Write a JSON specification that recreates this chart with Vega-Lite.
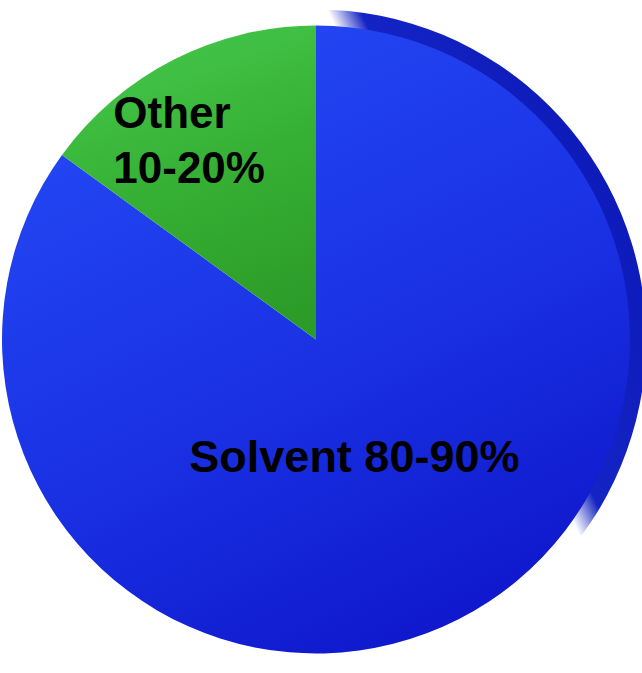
{
  "$schema": "https://vega.github.io/schema/vega-lite/v6.json",
  "width": 632,
  "height": 667,
  "autosize": {"type": "none"},
  "padding": {"left": 0, "top": 6, "right": 10, "bottom": 0},
  "background": "white",
  "view": {"stroke": null},
  "data": {
    "values": [
      {"part": "Solvent", "share": 85, "label": "Solvent 80-90%"},
      {"part": "Other", "share": 15, "label": "Other\n10-20%"}
    ]
  },
  "layer": [
    {
      "description": "Disc edge: a slightly larger full circle behind the face, shaded dark only towards its upper right",
      "mark": {
        "type": "arc",
        "radius": 330,
        "fill": {
          "gradient": "linear",
          "x1": 0, "y1": 0.5, "x2": 1, "y2": 0.02,
          "stops": [
            {"offset": 0, "color": "#ffffff"},
            {"offset": 0.615, "color": "#ffffff"},
            {"offset": 0.655, "color": "#1424c4"},
            {"offset": 1, "color": "#0a14b4"}
          ]
        }
      },
      "encoding": {
        "theta": {"aggregate": "sum", "field": "share", "type": "quantitative"}
      }
    },
    {
      "mark": {"type": "arc", "radius": 314},
      "encoding": {
        "theta": {"field": "share", "type": "quantitative", "stack": true},
        "order": {"field": "part", "sort": "descending"},
        "fill": {
          "condition": {
            "test": "datum.part === 'Other'",
            "value": {
              "gradient": "linear",
              "x1": 0.3, "y1": 0, "x2": 0.6, "y2": 1,
              "stops": [
                {"offset": 0, "color": "#44c84c"},
                {"offset": 0.5, "color": "#36b034"},
                {"offset": 1, "color": "#2c9c28"}
              ]
            }
          },
          "value": {
            "gradient": "linear",
            "x1": 0.3, "y1": 0, "x2": 0.8, "y2": 1,
            "stops": [
              {"offset": 0, "color": "#2448f4"},
              {"offset": 0.5, "color": "#1a32e4"},
              {"offset": 1, "color": "#0e14c8"}
            ]
          }
        }
      }
    },
    {
      "mark": {
        "type": "text",
        "radius": 224,
        "dx": -101,
        "dy": -25,
        "align": "left",
        "baseline": "middle",
        "lineBreak": "\n",
        "lineHeight": 55,
        "font": "Liberation Sans",
        "fontWeight": "bold",
        "fontSize": 44,
        "color": "#000000"
      },
      "encoding": {
        "theta": {"field": "share", "type": "quantitative", "stack": true},
        "order": {"field": "part", "sort": "descending"},
        "text": {
          "condition": {"test": "datum.part === 'Other'", "field": "label"},
          "value": ""
        }
      }
    },
    {
      "mark": {
        "type": "text",
        "radius": 133,
        "dx": -22,
        "dy": 0,
        "align": "center",
        "baseline": "middle",
        "font": "Liberation Sans",
        "fontWeight": "bold",
        "fontSize": 45,
        "color": "#000000"
      },
      "encoding": {
        "theta": {"field": "share", "type": "quantitative", "stack": true},
        "order": {"field": "part", "sort": "descending"},
        "text": {
          "condition": {"test": "datum.part === 'Solvent'", "field": "label"},
          "value": ""
        }
      }
    }
  ]
}
